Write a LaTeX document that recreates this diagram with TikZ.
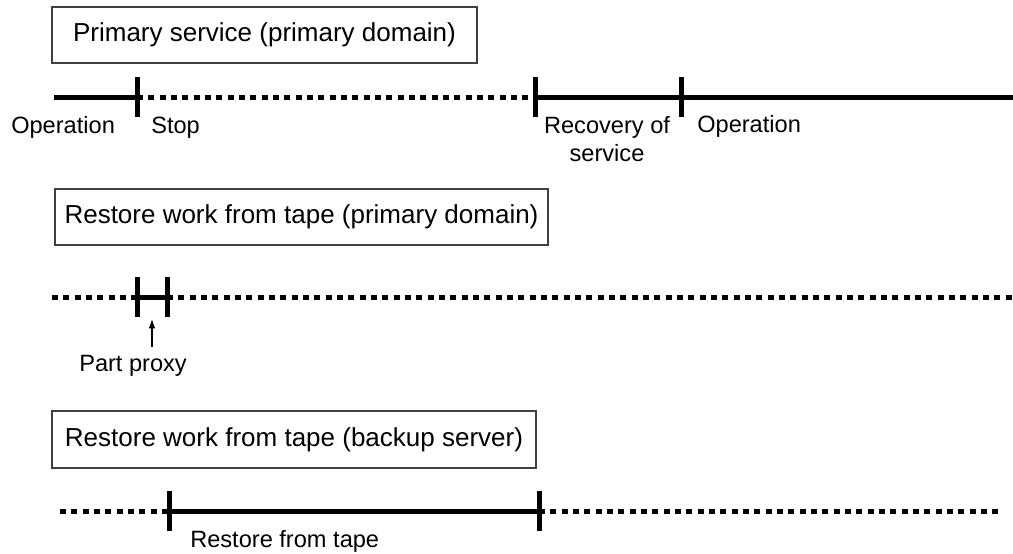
\documentclass[tikz,border=0pt]{standalone}
\usepackage{fontspec}
\setmainfont{Liberation Sans}
\usetikzlibrary{arrows.meta}

\begin{document}
\begin{tikzpicture}[x=0.75pt, y=-0.75pt,
	run/.style = {line width=3.75pt},
	idle/.style = {line width=3.75pt, dash pattern=on 4.5pt off 4pt},
	stroke/.style = {line width=3.75pt},
	phase/.style = {draw=black!75, line width=0.9pt, minimum height=42pt, inner sep=0pt, font=\fontsize{19.5}{23}\selectfont},
	lbl/.style = {inner sep=0pt, font=\fontsize{17.7}{21}\selectfont}]
	\useasboundingbox (0,0) rectangle (1013,553);
	\node [phase, minimum width=318.75pt] (primary) at (264.5,35) {Primary service (primary domain)};
	\node [phase, minimum width=369.75pt] (tapeprimary) at (301.5,217) {Restore work from tape (primary domain)};
	\node [phase, minimum width=363pt, minimum height=42.75pt] (tapebackup) at (294,439.5) {Restore work from tape (backup server)};
	\coordinate (a0) at (54,97);
	\coordinate (a1) at (137,97);
	\coordinate (a2) at (535,97);
	\coordinate (a3) at (681,97);
	\coordinate (a4) at (1013,97);
	\draw [run] (a0) -- (a1);
	\draw [idle] (a1) -- (a2);
	\draw [run] (a2) -- (a3) -- (a4);
	\coordinate (b0) at (52,297);
	\coordinate (b1) at (137,297);
	\coordinate (b2) at (167,297);
	\coordinate (b3) at (1013,297);
	\draw [idle] (b0) -- (b1);
	\draw [run] (b1) -- (b2);
	\draw [idle] (b2) -- (b3);
	\coordinate (c0) at (60,511);
	\coordinate (c1) at (169,511);
	\coordinate (c2) at (539,511);
	\coordinate (c3) at (1002,511);
	\draw [idle] (c0) -- (c1);
	\draw [run] (c1) -- (c2);
	\draw [idle] (c2) -- (c3);
	\foreach \c in {a1,a2,a3,b1,b2,c1,c2}{
	\draw [stroke] (\c) ++(0,-20) -- ++(0,40);
	}
	\node [lbl, anchor=base west] (op1) at (11,133) {Operation};
	\node [lbl, anchor=base west] (stop) at (151,133) {Stop};
	\node [lbl, anchor=north, align=center] (recovery) at (607,116) {Recovery of\\service};
	\node [lbl, anchor=base west] (op2) at (697,132) {Operation};
	\coordinate (pptail) at (152,347);
	\coordinate (pphead) at (152,319);
	\draw [-{Latex[length=7pt, width=5pt]}, line width=0.9pt] (pptail) -- (pphead);
	\node [lbl, anchor=base west] (proxy) at (79,371) {Part proxy};
	\node [lbl, anchor=base west] (restore) at (190,547) {Restore from tape};
\end{tikzpicture}
\end{document}
